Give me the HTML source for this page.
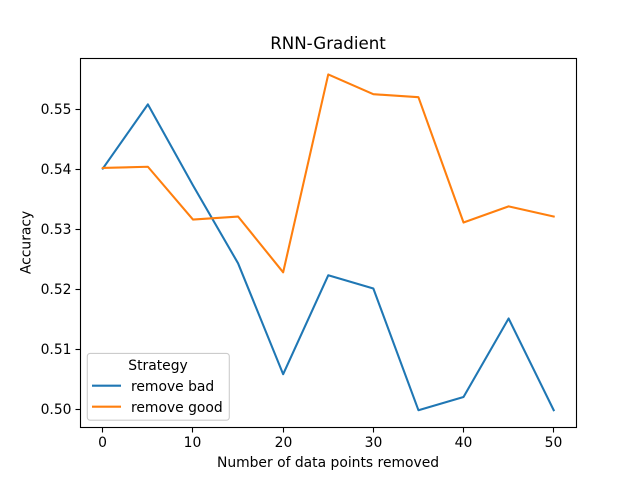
<!DOCTYPE html>
<html>
<head>
<meta charset="utf-8">
<title>RNN-Gradient</title>
<style>
html,body{margin:0;padding:0;background:#fff;}
svg{display:block;}
text{font-family:"DejaVu Sans",sans-serif;fill:#000;}
</style>
</head>
<body>
<svg id="chart" width="640" height="480" viewBox="0 0 640 480" xmlns="http://www.w3.org/2000/svg">
<rect x="0" y="0" width="640" height="480" fill="#fff"/>
<rect x="80" y="57.6" width="496" height="369.6" fill="#fff"/>
<g id="series"></g>
<g id="x-ticks"></g>
<g id="y-ticks"></g>
<rect x="80.5" y="58.5" width="496" height="369" fill="none" stroke="#000" stroke-width="1.11"/>
<text x="328" y="49" text-anchor="middle" font-size="16.67">RNN-Gradient</text>
<text x="328" y="467" text-anchor="middle" font-size="13.89">Number of data points removed</text>
<text transform="translate(30.5,242.4) rotate(-90)" text-anchor="middle" font-size="13.89">Accuracy</text>
<g>
<rect x="87.3" y="353.4" width="142" height="66.8" rx="2.8" fill="#fff" fill-opacity="0.8" stroke="#ccc" stroke-width="1.11"/>
<text x="158" y="370" text-anchor="middle" font-size="13.89">Strategy</text>
<line x1="92" y1="385.7" x2="121" y2="385.7" stroke="#1f77b4" stroke-width="2.08"/>
<text x="131" y="391" font-size="13.89">remove bad</text>
<line x1="92" y1="406.7" x2="121" y2="406.7" stroke="#ff7f0e" stroke-width="2.08"/>
<text x="131" y="412" font-size="13.89">remove good</text>
</g>
</svg>
<script>
const pointsRemoved = [0, 5, 10, 15, 20, 25, 30, 35, 40, 45, 50];
const removeBad = [0.5401, 0.5508, 0.5373, 0.5243, 0.5058, 0.5223, 0.5201, 0.4998, 0.5020, 0.5151, 0.4998];
const removeGood = [0.5402, 0.5404, 0.5316, 0.5321, 0.5228, 0.5558, 0.5525, 0.5520, 0.5311, 0.5338, 0.5321];
const xTickValues = [0, 10, 20, 30, 40, 50];
const yTickValues = [0.50, 0.51, 0.52, 0.53, 0.54, 0.55];

const NS = 'http://www.w3.org/2000/svg';
function xScale(v) { return 102.8 + v * 9.018; }
function yScale(v) { return 409 - (v - 0.5) * 5996; }

function drawSeries(name, values, color) {
  const line = document.createElementNS(NS, 'polyline');
  
  
  line.setAttribute('points', values.map((v, i) => xScale(pointsRemoved[i]).toFixed(2) + ',' + yScale(v).toFixed(2)).join(' '));
  line.setAttribute('fill', 'none');
  line.setAttribute('stroke', color);
  line.setAttribute('stroke-width', '2.08');
  line.setAttribute('stroke-linejoin', 'round');
  line.setAttribute('stroke-linecap', 'square');
  document.getElementById('series').appendChild(line);
}
drawSeries('series-remove-bad', removeBad, '#1f77b4');
drawSeries('series-remove-good', removeGood, '#ff7f0e');

xTickValues.forEach(function (v) {
  const x = Math.floor(xScale(v)) + 0.5;
  const tick = document.createElementNS(NS, 'line');
  
  
  tick.setAttribute('x1', x);
  tick.setAttribute('x2', x);
  tick.setAttribute('y1', 427.5);
  tick.setAttribute('y2', 432.5);
  tick.setAttribute('stroke', '#000');
  tick.setAttribute('stroke-width', '1.11');
  document.getElementById('x-ticks').appendChild(tick);
  const label = document.createElementNS(NS, 'text');
  
  
  label.setAttribute('x', x);
  label.setAttribute('y', 447);
  label.setAttribute('text-anchor', 'middle');
  label.setAttribute('font-size', '13.89');
  label.textContent = String(v);
  document.getElementById('x-ticks').appendChild(label);
});

yTickValues.forEach(function (v) {
  const y = Math.floor(yScale(v)) + 0.5;
  const tick = document.createElementNS(NS, 'line');
  
  
  tick.setAttribute('x1', 75.5);
  tick.setAttribute('x2', 80.5);
  tick.setAttribute('y1', y);
  tick.setAttribute('y2', y);
  tick.setAttribute('stroke', '#000');
  tick.setAttribute('stroke-width', '1.11');
  document.getElementById('y-ticks').appendChild(tick);
  const label = document.createElementNS(NS, 'text');
  
  
  label.setAttribute('x', 71.5);
  label.setAttribute('y', y + 4.7);
  label.setAttribute('text-anchor', 'end');
  label.setAttribute('font-size', '13.89');
  label.textContent = v.toFixed(2);
  document.getElementById('y-ticks').appendChild(label);
});
</script>
</body>
</html>
